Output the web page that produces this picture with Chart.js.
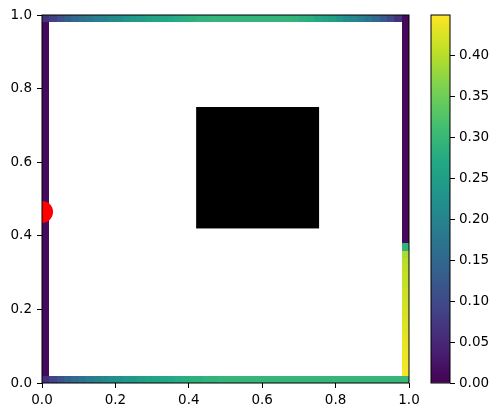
<!DOCTYPE html>
<html>
<head>
<meta charset="utf-8">
<script src="https://cdn.jsdelivr.net/npm/chart.js@4.4.0/dist/chart.umd.min.js"></script>
<style>
  body { margin: 0; background: #fff; }
  #wrap { position: relative; width: 500px; height: 418px; }
  #wrap canvas { position: absolute; left: 0; top: 0; }
</style>
</head>
<body>
<div id="wrap">
  <canvas id="main" width="500" height="418"></canvas>
  <canvas id="cbar" width="500" height="418"></canvas>
</div>
<script>
// grid is 50 x 50, only the boundary cells carry a value
var nCells = 50;
var vmax = 0.449;

// top row, left -> right
var topRow = [0.06, 0.085, 0.11, 0.13, 0.15, 0.165, 0.18, 0.19, 0.20, 0.21,
              0.22, 0.23, 0.24, 0.245, 0.255, 0.26, 0.265, 0.27, 0.275, 0.28,
              0.285, 0.29, 0.29, 0.295, 0.295, 0.295, 0.295, 0.295, 0.295, 0.295,
              0.295, 0.295, 0.295, 0.295, 0.29, 0.285, 0.28, 0.27, 0.26, 0.25,
              0.235, 0.22, 0.205, 0.19, 0.17, 0.15, 0.125, 0.10, 0.065, 0.01];
// bottom row, left -> right
var bottomRow = [0.06, 0.09, 0.115, 0.135, 0.155, 0.17, 0.185, 0.195, 0.205, 0.215,
                 0.225, 0.235, 0.24, 0.25, 0.255, 0.26, 0.265, 0.27, 0.275, 0.28,
                 0.285, 0.285, 0.29, 0.29, 0.295, 0.295, 0.295, 0.295, 0.295, 0.295,
                 0.295, 0.295, 0.295, 0.295, 0.295, 0.295, 0.295, 0.295, 0.295, 0.295,
                 0.295, 0.295, 0.295, 0.295, 0.295, 0.295, 0.295, 0.295, 0.295, 0.30];
// left column, rows 1..48 from bottom
var leftCol = [0.012, 0.012, 0.012, 0.012, 0.012, 0.012, 0.012, 0.012, 0.012, 0.012,
               0.012, 0.012, 0.012, 0.012, 0.012, 0.012, 0.012, 0.012, 0.012, 0.012,
               0.012, 0.012, 0.012, 0.012, 0.012, 0.012, 0.012, 0.012, 0.012, 0.012,
               0.012, 0.012, 0.012, 0.012, 0.012, 0.012, 0.012, 0.012, 0.012, 0.012,
               0.012, 0.012, 0.012, 0.012, 0.012, 0.012, 0.012, 0.012];
// right column, rows 1..48 from bottom
var rightCol = [0.445, 0.442, 0.44, 0.437, 0.434, 0.431, 0.428, 0.425, 0.422, 0.419,
                0.416, 0.413, 0.41, 0.407, 0.404, 0.401, 0.39, 0.29, 0.01, 0.01,
                0.01, 0.01, 0.01, 0.01, 0.01, 0.01, 0.01, 0.01, 0.01, 0.01,
                0.01, 0.01, 0.01, 0.01, 0.01, 0.01, 0.01, 0.01, 0.01, 0.01,
                0.01, 0.01, 0.01, 0.01, 0.01, 0.01, 0.01, 0.01];

var obstacle = [0.42, 0.42, 0.755, 0.75];   // x0, y0, x1, y1
var source = [{ x: 0.0, y: 0.465 }];
var axisTicks = [0, 0.2, 0.4, 0.6, 0.8, 1.0];

var viridisStops = ['#440154', '#482475', '#414487', '#355f8d', '#2a788e', '#21918c',
                    '#22a884', '#44bf70', '#7ad151', '#bddf26', '#fde725'];

function hexRgb(h) {
    return [parseInt(h.substr(1, 2), 16), parseInt(h.substr(3, 2), 16), parseInt(h.substr(5, 2), 16)];
}

function viridis(t) {
    t = Math.max(0, Math.min(1, t));
    var n = viridisStops.length - 1;
    var k = Math.min(n - 1, Math.floor(t * n));
    var f = t * n - k;
    var a = hexRgb(viridisStops[k]), b = hexRgb(viridisStops[k + 1]);
    var c = [0, 1, 2].map(function (i) { return Math.round(a[i] + (b[i] - a[i]) * f); });
    return 'rgb(' + c.join(',') + ')';
}

function fillCell(ctx, xs, ys, i, j, v) {
    var step = 1 / nCells;
    var x0 = Math.round(xs.getPixelForValue(i * step));
    var x1 = Math.round(xs.getPixelForValue((i + 1) * step));
    var y0 = Math.round(ys.getPixelForValue((j + 1) * step));
    var y1 = Math.round(ys.getPixelForValue(j * step));
    ctx.fillStyle = viridis(v / vmax);
    ctx.fillRect(x0, y0, x1 - x0, y1 - y0);
}

var cellsPlugin = {
    id: 'cells',
    beforeDatasetsDraw: function (chart) {
        var ctx = chart.ctx, xs = chart.scales.x, ys = chart.scales.y;
        ctx.save();
        for (var i = 0; i < nCells; i++) {
            fillCell(ctx, xs, ys, i, nCells - 1, topRow[i]);
            fillCell(ctx, xs, ys, i, 0, bottomRow[i]);
        }
        for (var j = 0; j < leftCol.length; j++) {
            fillCell(ctx, xs, ys, 0, j + 1, leftCol[j]);
            fillCell(ctx, xs, ys, nCells - 1, j + 1, rightCol[j]);
        }
        var bx0 = xs.getPixelForValue(obstacle[0]), by0 = ys.getPixelForValue(obstacle[3]);
        var bx1 = xs.getPixelForValue(obstacle[2]), by1 = ys.getPixelForValue(obstacle[1]);
        ctx.fillStyle = '#000';
        ctx.fillRect(bx0, by0, bx1 - bx0, by1 - by0);
        ctx.restore();
    }
};

var framePlugin = {
    id: 'frame',
    afterDraw: function (chart) {
        var a = chart.chartArea, ctx = chart.ctx;
        ctx.save();
        ctx.strokeStyle = '#000';
        ctx.lineWidth = 1;
        ctx.strokeRect(a.left, a.top, a.right - a.left, a.bottom - a.top);
        ctx.restore();
    }
};

Chart.defaults.font.family = 'DejaVu Sans';
Chart.defaults.font.size = 13.5;
Chart.defaults.color = '#000';
Chart.defaults.animation = false;

var tickGrid = { drawOnChartArea: false, tickLength: 5, color: '#000', tickColor: '#000' };

new Chart(document.getElementById('main'), {
    type: 'scatter',
    data: {
        datasets: [{
            data: source,
            pointRadius: 11,
            pointHoverRadius: 11,
            backgroundColor: '#ff0000',
            borderWidth: 0,
            clip: 0
        }]
    },
    options: {
        responsive: false,
        events: [],
        layout: { padding: { left: 0, right: 91, top: 15, bottom: 0 } },
        plugins: { legend: { display: false }, tooltip: { enabled: false } },
        scales: {
            x: {
                type: 'linear', min: 0, max: 1,
                afterBuildTicks: function (s) { s.ticks = axisTicks.map(function (v) { return { value: v }; }); },
                afterFit: function (s) { s.height = 35; },
                grid: tickGrid,
                border: { display: false },
                ticks: { padding: 4, maxRotation: 0, callback: function (v) { return v.toFixed(1); } }
            },
            y: {
                type: 'linear', min: 0, max: 1,
                afterBuildTicks: function (s) { s.ticks = axisTicks.map(function (v) { return { value: v }; }); },
                afterFit: function (s) { s.width = 42; },
                grid: tickGrid,
                border: { display: false },
                ticks: { padding: 5, callback: function (v) { return v.toFixed(1); } }
            }
        }
    },
    plugins: [cellsPlugin, framePlugin]
});

// colorbar
var cbTicks = [0, 0.05, 0.10, 0.15, 0.20, 0.25, 0.30, 0.35, 0.40];

new Chart(document.getElementById('cbar'), {
    type: 'bar',
    data: {
        labels: [''],
        datasets: [{
            data: [[0, vmax]],
            borderWidth: 0,
            barPercentage: 1,
            categoryPercentage: 1,
            backgroundColor: function (c) {
                var a = c.chart.chartArea;
                if (!a) return '#21918c';
                var g = c.chart.ctx.createLinearGradient(0, a.bottom, 0, a.top);
                viridisStops.forEach(function (col, k) { g.addColorStop(k / (viridisStops.length - 1), col); });
                return g;
            }
        }]
    },
    options: {
        responsive: false,
        events: [],
        layout: { padding: { left: 431, right: 0, top: 15, bottom: 35 } },
        plugins: { legend: { display: false }, tooltip: { enabled: false } },
        scales: {
            x: { display: false },
            y: {
                position: 'right', min: 0, max: vmax,
                afterBuildTicks: function (s) { s.ticks = cbTicks.map(function (v) { return { value: v }; }); },
                afterFit: function (s) { s.width = 50; },
                grid: tickGrid,
                border: { display: false },
                ticks: { padding: 4, callback: function (v) { return v.toFixed(2); } }
            }
        }
    },
    plugins: [framePlugin]
});
</script>
</body>
</html>
